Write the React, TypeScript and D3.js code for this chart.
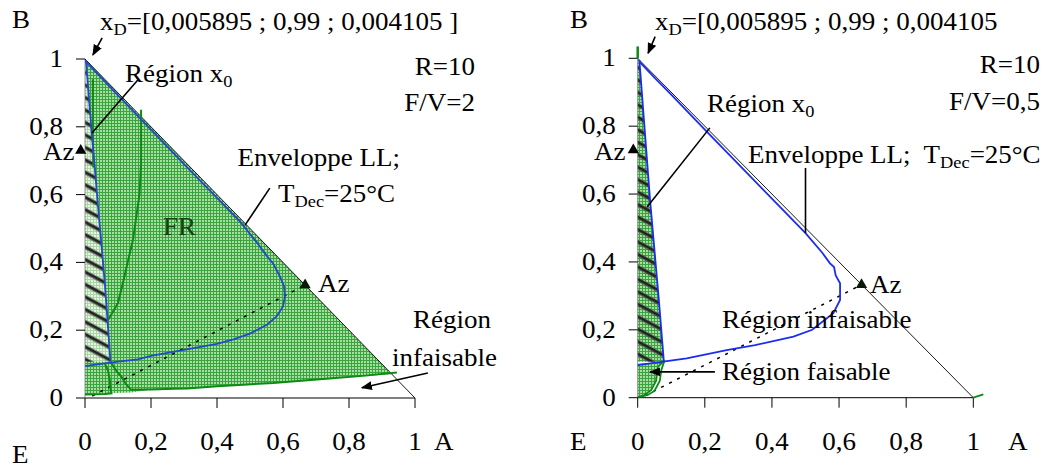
import React from "react";
import * as d3 from "d3";

// ---------- data ----------
const tickValues = [0, 0.2, 0.4, 0.6, 0.8, 1];
const tickLabels = ["0", "0,2", "0,4", "0,6", "0,8", "1"];
const hypotenuse: [number, number][] = [[0, 1], [1, 0]];
const azBE: [number, number] = [-0.013, 0.73];
const azAB: [number, number] = [0.667, 0.333];
const distLine: [number, number][] = [[0.022, 0.006], [0.667, 0.333]];

// Left panel (F/V = 2)
const leftEnvelope: [number, number][] = [
  [0.005, 0.99], [0.1, 0.893], [0.2, 0.792], [0.3, 0.69], [0.4, 0.59], [0.47, 0.52],
  [0.52, 0.46], [0.55, 0.42], [0.57, 0.397], [0.59, 0.36], [0.603, 0.33], [0.606, 0.3],
  [0.6, 0.27], [0.58, 0.24], [0.55, 0.215], [0.5, 0.19], [0.45, 0.173], [0.4, 0.16],
  [0.3, 0.142], [0.2, 0.124], [0.16, 0.114], [0.1, 0.107], [0.06, 0.102], [0, 0.094],
];
const leftX0Boundary: [number, number][] = [
  [0.003, 0.997], [0.02, 0.785], [0.029, 0.687], [0.039, 0.57], [0.05, 0.45],
  [0.06, 0.338], [0.066, 0.26], [0.077, 0.107],
];
const leftGreen1: [number, number][] = [[0.024, 0.94], [0.024, 0.8], [0.025, 0.68]];
const leftGreen2: [number, number][] = [
  [0.17, 0.85], [0.17, 0.69], [0.165, 0.6], [0.146, 0.47], [0.115, 0.34], [0.1, 0.28], [0.07, 0.23],
];
const leftGreen3: [number, number][] = [
  [0.077, 0.107], [0.095, 0.08], [0.11, 0.063], [0.125, 0.04], [0.14, 0.024], [0.2, 0.025],
  [0.27, 0.027], [0.31, 0.028], [0.4, 0.035], [0.57, 0.044], [0.75, 0.058], [0.85, 0.066], [0.945, 0.075],
];
const leftGreen4: [number, number][] = [
  [0.06, 0.102], [0.07, 0.08], [0.075, 0.053], [0.077, 0.03], [0.08, 0.014], [0.06, 0.012], [0, 0.01],
];
const leftFeasible: [number, number][] = [
  [0, 1], [0.93, 0.07], [0.85, 0.066], [0.75, 0.058], [0.57, 0.044], [0.4, 0.035], [0.31, 0.028],
  [0.2, 0.025], [0.14, 0.016], [0, 0.012],
];

// Right panel (F/V = 0,5)
const rightEnvelope: [number, number][] = [
  [0.005, 0.99], [0.05, 0.943], [0.1, 0.893], [0.2, 0.79], [0.3, 0.688], [0.424, 0.562],
  [0.5, 0.485], [0.55, 0.427], [0.573, 0.396], [0.585, 0.385], [0.59, 0.36], [0.603, 0.337],
  [0.603, 0.288], [0.583, 0.249], [0.52, 0.2], [0.464, 0.18], [0.35, 0.155], [0.265, 0.14],
  [0.146, 0.116], [0.076, 0.106], [0, 0.096],
];
const rightX0Boundary: [number, number][] = [
  [0.005, 0.995], [0.037, 0.58], [0.063, 0.288], [0.078, 0.106],
];
const rightGreenA: [number, number][] = [
  [0.076, 0.106], [0.06, 0.09], [0.055, 0.05], [0.04, 0.022], [0.02, 0.008], [0.005, 0.003], [0, 0.003],
];
const rightGreenB: [number, number][] = [
  [0.08, 0.11], [0.07, 0.08], [0.066, 0.05], [0.05, 0.02], [0.03, 0.008], [0.01, 0.003],
];
const rightFeasible: [number, number][] = [
  [0, 0.1], [0.076, 0.106], [0.06, 0.09], [0.055, 0.05], [0.04, 0.022], [0.02, 0.008], [0, 0.003],
];
const rightGreenTop: [number, number][] = [[0, 1], [0, 1.035]];
const rightGreenA1: [number, number][] = [[1, 0], [1.03, 0.01]];

// ---------- layout ----------
const FONT = '"Liberation Serif", "Times New Roman", Times, serif';
const SX = 1.08;
const FS = 25;

type P = [number, number];

function T({ x, y, anchor = "start", fill = "#000", children }: any) {
  return (
    <text
      transform={`translate(${x},${y}) scale(${SX},1)`}
      textAnchor={anchor}
      fontSize={FS}
      fill={fill}
      style={{ whiteSpace: "pre", fontFamily: FONT }}
    >
      {children}
    </text>
  );
}

// subscript followed by optional rest-of-text (restored baseline)
function subParts(sub: string, rest?: string) {
  return [
    <tspan key="s" fontSize={17} dy={5}>{sub}</tspan>,
    rest ? <tspan key="r" dy={-5}>{rest}</tspan> : null,
  ];
}

function Panel({ x0, x1, y0, y1, side }: any) {
  const xs = d3.scaleLinear().domain([0, 1]).range([x0, x1]);
  const ys = d3.scaleLinear().domain([0, 1]).range([y0, y1]);
  const line = d3.line<P>().x((d) => xs(d[0])).y((d) => ys(d[1]));
  const area = (pts: P[]) => line(pts) + "Z";
  const tri = d3.symbol().type(d3.symbolTriangle).size(55)() as string;
  const left = side === "L";
  const blue = left ? "#2448c8" : "#1a2cf0";
  const green = "#0c8a14";
  const b = left ? leftX0Boundary : rightX0Boundary;
  const bottom = b[b.length - 1][1];
  const hatchPoly: P[] = [[0, bottom], [0, 1], ...b];

  return (
    <g>
      <path d={area(left ? leftFeasible : rightFeasible)} fill="url(#grid)" />
      <path d={area(hatchPoly)} fill={left ? "url(#gridLight)" : "url(#grid)"} />
      <path d={area(hatchPoly)} fill="url(#stripes)" />

      {/* axes */}
      <line x1={xs(0)} x2={xs(1)} y1={ys(0)} y2={ys(0)} stroke="#000" strokeWidth={1} />
      <line x1={xs(0)} x2={xs(0)} y1={ys(0)} y2={ys(1)} stroke="#777" strokeWidth={0.8} />
      {tickValues.map((v, i) => (
        <g key={"t" + i}>
          <line x1={xs(v)} x2={xs(v)} y1={ys(0)} y2={ys(0) + 10} stroke="#000" />
          <line x1={xs(0) - 9} x2={xs(0)} y1={ys(v)} y2={ys(v)} stroke="#000" />
          <T x={xs(v)} y={450} anchor="middle">{tickLabels[i]}</T>
          <T x={xs(0) - 22} y={ys(v) + 8} anchor="end">{tickLabels[i]}</T>
        </g>
      ))}

      <path d={line(hypotenuse)!} fill="none" stroke="#000" strokeWidth={0.9} />
      <path d={line(distLine)!} fill="none" stroke="#000" strokeWidth={1.5} strokeDasharray="3 6" />

      {left ? (
        <g fill="none" stroke={green} strokeWidth={2}>
          <path d={line(leftGreen1)!} />
          <path d={line(leftGreen2)!} />
          <path d={line(leftGreen3)!} />
          <path d={line(leftGreen4)!} />
        </g>
      ) : (
        <g fill="none" stroke={green} strokeWidth={1.8}>
          <path d={line(rightGreenA)!} />
          <path d={line(rightGreenB)!} />
          <path d={line(rightGreenTop)!} strokeWidth={2.5} />
          <path d={line(rightGreenA1)!} />
        </g>
      )}

      <g fill="none" stroke={blue} strokeWidth={1.8}>
        <path d={line(left ? leftEnvelope : rightEnvelope)!} />
        <path d={line(b)!} />
      </g>

      <path d={tri} transform={`translate(${xs(azBE[0])},${ys(azBE[1])})`} fill="#000" />
      <path d={tri} transform={`translate(${xs(azAB[0])},${ys(azAB[1])})`} fill="#0a1a0a" />
    </g>
  );
}

function Arrow({ xs, ys, from, to, head = false }: any) {
  return (
    <line
      x1={xs(from[0])}
      y1={ys(from[1])}
      x2={xs(to[0])}
      y2={ys(to[1])}
      stroke="#000"
      strokeWidth={1.6}
      markerEnd={head ? "url(#ah)" : undefined}
    />
  );
}

export default function App() {
  const L = { x0: 85, x1: 415, y0: 398, y1: 59 };
  const R = { x0: 637.7, x1: 973.3, y0: 397.7, y1: 58.3 };
  const lx = d3.scaleLinear().domain([0, 1]).range([L.x0, L.x1]);
  const ly = d3.scaleLinear().domain([0, 1]).range([L.y0, L.y1]);
  const rx = d3.scaleLinear().domain([0, 1]).range([R.x0, R.x1]);
  const ry = d3.scaleLinear().domain([0, 1]).range([R.y0, R.y1]);

  return (
    <svg
      width={1054}
      height={468}
      style={{ position: "absolute", left: 0, top: 0, background: "#fff" }}
    >
      <defs>
        <pattern id="grid" width={3} height={3} patternUnits="userSpaceOnUse">
          <rect width={3} height={3} fill="#a9dea2" />
          <path d="M0,0.5H3M0.5,0V3" stroke="#3aa43f" strokeWidth={1} />
        </pattern>
        <pattern id="gridLight" width={3} height={3} patternUnits="userSpaceOnUse">
          <rect width={3} height={3} fill="#e6f4e2" />
          <path d="M0,0.5H3M0.5,0V3" stroke="#a8d8a4" strokeWidth={1} />
        </pattern>
        <pattern
          id="stripes"
          width={11}
          height={11}
          patternUnits="userSpaceOnUse"
          patternTransform="rotate(28)"
        >
          <rect y={0} width={11} height={4.5} fill="#555" opacity={0.6} />
          <rect y={1} width={11} height={2.5} fill="#222" />
        </pattern>
        <marker id="ah" viewBox="0 0 10 10" refX={9} refY={5} markerWidth={7} markerHeight={7} orient="auto">
          <path d="M0,1L10,5L0,9Z" fill="#000" />
        </marker>
      </defs>

      <Panel {...L} side="L" />
      <Panel {...R} side="R" />

      {/* left annotations */}
      <Arrow xs={lx} ys={ly} from={[0.052, 1.062]} to={[0.024, 1.012]} head />
      <Arrow xs={lx} ys={ly} from={[0.16, 0.938]} to={[0.021, 0.782]} />
      <Arrow xs={lx} ys={ly} from={[0.56, 0.619]} to={[0.485, 0.51]} />
      <Arrow xs={lx} ys={ly} from={[1.039, 0.074]} to={[0.839, 0.03]} head />

      <T x={12} y={28}>B</T>
      <T x={12} y={463}>E</T>
      <T x={434} y={450}>A</T>
      <T x={100} y={30}>x{subParts("D", "=[0,005895 ; 0,99 ; 0,004105 ]")}</T>
      <T x={475} y={75} anchor="end">R=10</T>
      <T x={475} y={111} anchor="end">F/V=2</T>
      <T x={125} y={82}>Région x{subParts("0")}</T>
      <T x={400} y={166} anchor="end">Enveloppe LL;</T>
      <T x={278} y={202}>T{subParts("Dec", "=25°C")}</T>
      <T x={163} y={235} fill="#173f17">FR</T>
      <T x={43} y={160}>Az</T>
      <T x={318} y={292}>Az</T>
      <T x={413} y={328}>Région</T>
      <T x={392} y={366}>infaisable</T>

      {/* right annotations */}
      <Arrow xs={rx} ys={ry} from={[0.052, 1.064]} to={[0.031, 1.015]} head />
      <Arrow xs={rx} ys={ry} from={[0.215, 0.795]} to={[0.028, 0.562]} />
      <Arrow xs={rx} ys={ry} from={[0.5, 0.677]} to={[0.5, 0.485]} />
      <Arrow xs={rx} ys={ry} from={[0.23, 0.076]} to={[0.037, 0.076]} head />

      <T x={570} y={28}>B</T>
      <T x={570} y={450}>E</T>
      <T x={1008} y={450}>A</T>
      <T x={655} y={30}>x{subParts("D", "=[0,005895 ; 0,99 ; 0,004105")}</T>
      <T x={1040} y={73} anchor="end">R=10</T>
      <T x={1040} y={110} anchor="end">F/V=0,5</T>
      <T x={707} y={112}>Région x{subParts("0")}</T>
      <T x={748} y={163}>Enveloppe LL;  T{subParts("Dec", "=25°C")}</T>
      <T x={594} y={160}>Az</T>
      <T x={870} y={293}>Az</T>
      <T x={722} y={328}>Région infaisable</T>
      <T x={722} y={380}>Région faisable</T>
    </svg>
  );
}
